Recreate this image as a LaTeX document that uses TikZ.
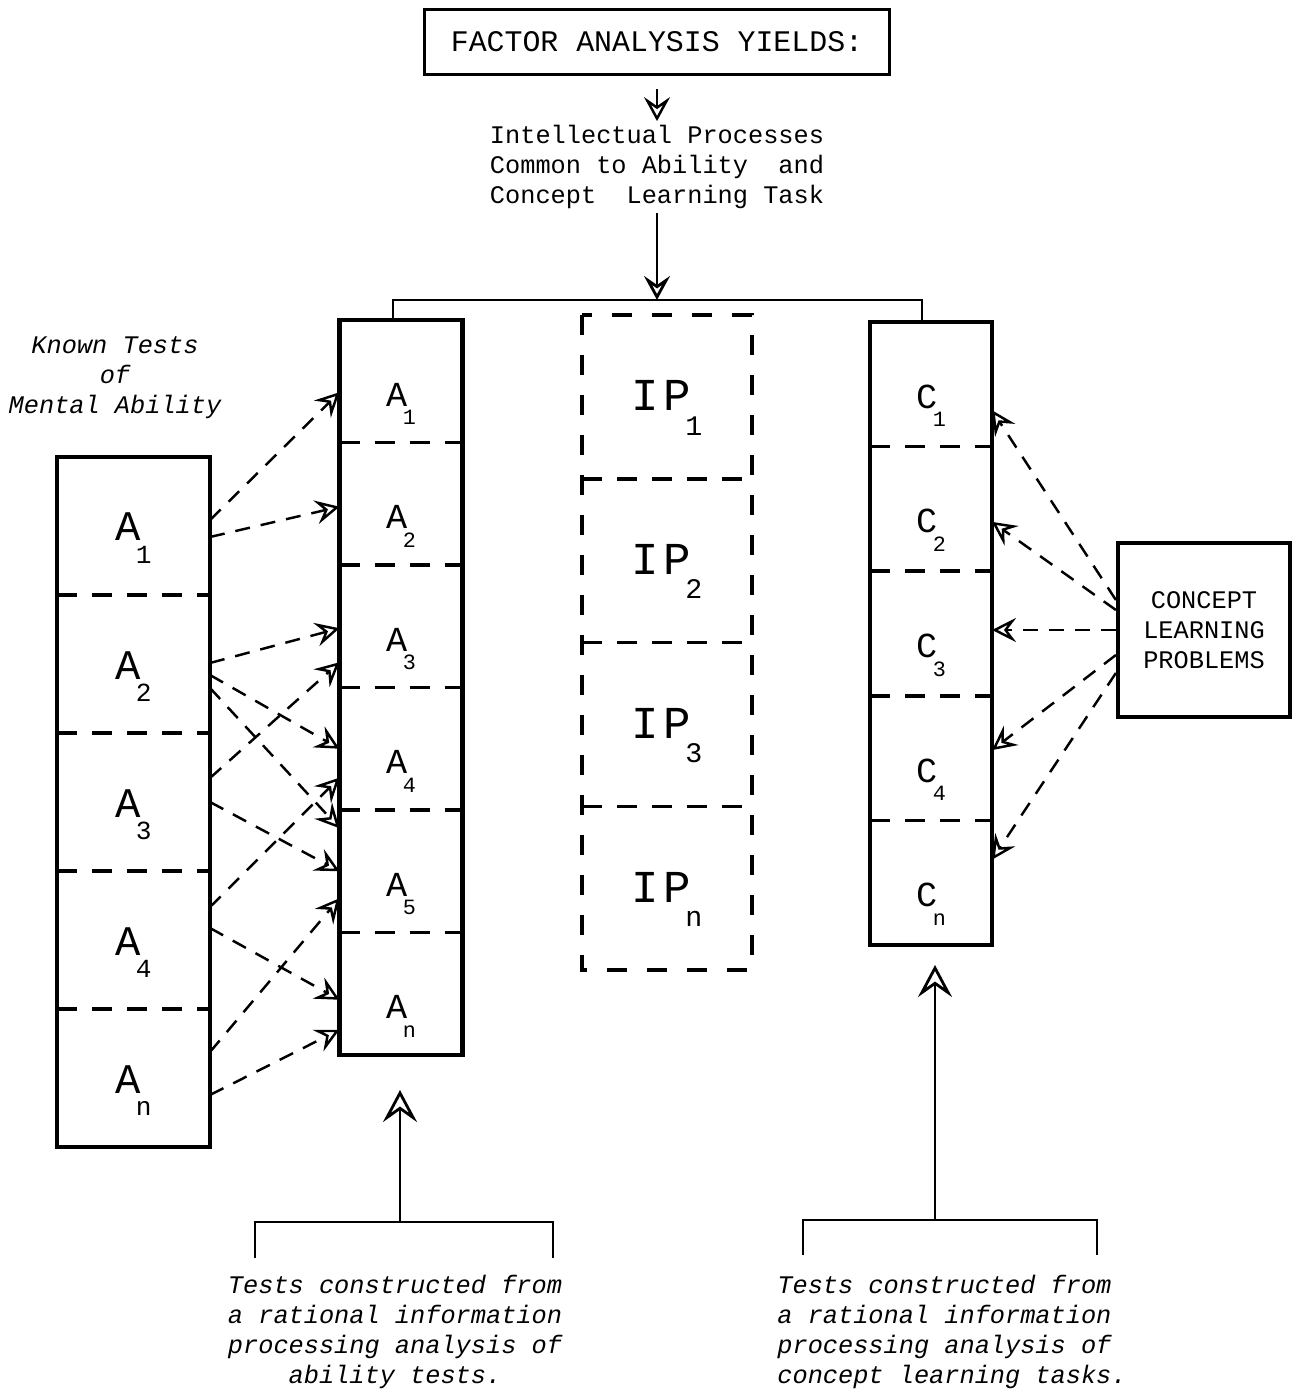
\documentclass[tikz,border=0pt]{standalone}
\usepackage{fontspec}
\setmainfont{Liberation Mono}
\usetikzlibrary{arrows.meta, positioning, calc}

\newcommand{\lowidx}[1]{\kern-0.12em\raisebox{-1ex}{\scalebox{0.62}{#1}}}

\begin{document}
\begin{tikzpicture}[x=0.1mm, y=-0.1mm,
    frame/.style={line width=1.2pt},
    divider/.style={line width=1pt, dash pattern=on 2mm off 1.5mm},
    kcell/.style={minimum width=15.3mm, minimum height=13.8mm, inner sep=0pt, outer sep=0pt, font=\fontsize{12}{12}\selectfont, text height=3mm, text depth=0pt},
    acell/.style={minimum width=12.3mm, minimum height=12.25mm, inner sep=0pt, outer sep=0pt, font=\fontsize{10}{10}\selectfont, text height=5mm, text depth=0pt},
    ipcell/.style={minimum width=17mm, minimum height=16.375mm, inner sep=0pt, outer sep=0pt, font=\fontsize{13}{13}\selectfont, text height=2.8mm, text depth=0pt},
    ccell/.style={minimum width=12.2mm, minimum height=12.46mm, inner sep=0pt, outer sep=0pt, font=\fontsize{10}{10}\selectfont, text height=4.8mm, text depth=0pt},
    box/.style={draw, line width=1pt, align=center, inner sep=0pt},
    note/.style={align=center, inner sep=1pt, font=\fontsize{7.2}{8.5}\selectfont},
    slnote/.style={note, font=\itshape\fontsize{7.2}{8.5}\selectfont},
    bracket/.style={line width=0.8pt},
    darr/.style={line width=0.7pt, dash pattern=on 1.5mm off 1.1mm, -{Stealth[length=2.4mm, width=2.4mm, inset=0.9mm, fill=white]}},
    upar/.style={line width=0.8pt, -{Stealth[length=3.2mm, width=3.4mm, inset=1.2mm, fill=white]}},
    downar/.style={line width=0.7pt, -{Stealth[length=2.4mm, width=2.6mm, inset=0.9mm, fill=white]}}
]
\useasboundingbox (0,0) rectangle (1300,1394);

% Header
\node (factor) [box, line width=0.8pt, minimum width=46.5mm, minimum height=6.5mm, font=\fontsize{8.5}{10}\selectfont] at (657,42) {FACTOR ANALYSIS YIELDS:};
\node (procs) [note] at (657,167) {Intellectual Processes\\Common to Ability~~and\\Concept~~Learning Task};

% Known tests of mental ability
\node (known) [slnote] at (115,378) {Known Tests\\of\\Mental Ability};
\node (kt1) [kcell] at (133.5,526) {A\lowidx{1}};
\node (kt2) [kcell, below=0pt of kt1] {A\lowidx{2}};
\node (kt3) [kcell, below=0pt of kt2] {A\lowidx{3}};
\node (kt4) [kcell, below=0pt of kt3] {A\lowidx{4}};
\node (kt5) [kcell, below=0pt of kt4] {A\lowidx{n}};

% Constructed ability tests
\node (a1) [acell] at (401,381.25) {A\lowidx{1}};
\node (a2) [acell, below=0pt of a1] {A\lowidx{2}};
\node (a3) [acell, below=0pt of a2] {A\lowidx{3}};
\node (a4) [acell, below=0pt of a3] {A\lowidx{4}};
\node (a5) [acell, below=0pt of a4] {A\lowidx{5}};
\node (a6) [acell, below=0pt of a5] {A\lowidx{n}};

% Intellectual processes
\node (ip1) [ipcell] at (667,396.9) {I\kern0.1em P\lowidx{1}};
\node (ip2) [ipcell, below=0pt of ip1] {I\kern0.1em P\lowidx{2}};
\node (ip3) [ipcell, below=0pt of ip2] {I\kern0.1em P\lowidx{3}};
\node (ip4) [ipcell, below=0pt of ip3] {I\kern0.1em P\lowidx{n}};

% Constructed concept tasks
\node (c1) [ccell] at (931,384.3) {C\lowidx{1}};
\node (c2) [ccell, below=0pt of c1] {C\lowidx{2}};
\node (c3) [ccell, below=0pt of c2] {C\lowidx{3}};
\node (c4) [ccell, below=0pt of c3] {C\lowidx{4}};
\node (c5) [ccell, below=0pt of c4] {C\lowidx{n}};

\node (clp) [box, line width=1.2pt, minimum width=17.2mm, minimum height=17.4mm, font=\fontsize{7.2}{8.5}\selectfont] at (1204,630) {CONCEPT\\LEARNING\\PROBLEMS};

% Footnotes
\node (abtxt) [slnote] at (395,1332) {Tests constructed from\\a rational information\\processing analysis of\\ability tests.};
\node (cbtxt) [slnote, align=left] at (952,1332) {Tests constructed from\\a rational information\\processing analysis of\\concept learning tasks.};

% Column frames and cell borders
\draw[frame] (kt1.north west) rectangle (kt5.south east);
\draw[frame] (a1.north west) rectangle (a6.south east);
\draw[frame] (c1.north west) rectangle (c5.south east);
\draw[divider, dash pattern=on 2mm off 2mm] (ip1.north west) rectangle (ip4.south east);
\foreach \n in {kt1,kt2,kt3,kt4,a1,a2,a3,a4,a5,ip1,ip2,ip3,c1,c2,c3,c4}
    \draw[divider] (\n.south west) -- (\n.south east);

% Top flow
\coordinate (tl) at (393,300);
\coordinate (tr) at (922,300);
\draw[downar] ([yshift=-1.3mm]factor.south) -- (procs.north);
\draw[downar, line width=0.8pt] (procs.south) -- (procs.south |- tl);
\draw[bracket] (tl |- a1.north) -- (tl) -- (tr) -- (tr |- c1.north);

% Known tests to constructed tests
\draw[darr] ([yshift=0.6mm]kt1.east) -- ([yshift=-1.1mm]a1.west);
\draw[darr] ([yshift=-1.1mm]kt1.east) -- ([yshift=-0.3mm]a2.west);
\draw[darr] ([yshift=0.1mm]kt2.east) -- ([yshift=-0.2mm]a3.west);
\draw[darr] ([yshift=-1.1mm]kt2.east) -- (a4.west);
\draw[darr] ([yshift=-2.4mm]kt2.east) -- ([yshift=4.3mm]a5.west);
\draw[darr] ([yshift=2.4mm]kt3.east) -- ([yshift=-3.6mm]a3.west);
\draw[darr] (kt3.east) -- (a5.west);
\draw[darr] ([yshift=3.3mm]kt4.east) -- ([yshift=-2.9mm]a4.west);
\draw[darr] ([yshift=1.2mm]kt4.east) -- ([yshift=-0.6mm]a6.west);
\draw[darr] ([yshift=2.6mm]kt5.east) -- ([yshift=-2.7mm]a5.west);
\draw[darr] ([yshift=-1.7mm]kt5.east) -- ([yshift=-3.6mm]a6.west);

% Concept learning problems to tasks
\draw[darr] ([yshift=3mm]clp.west) -- ([yshift=-2.6mm]c1.east);
\draw[darr] ([yshift=2mm]clp.west) -- ([yshift=-1.3mm]c2.east);
\draw[darr] (clp.west) -- (clp.west -| c3.east);
\draw[darr] ([yshift=-2.5mm]clp.west) -- ([yshift=0.8mm]c4.east);
\draw[darr] ([yshift=-4.3mm]clp.west) -- ([yshift=2.3mm]c5.east);

% Bottom brackets
\coordinate (bl) at (400,1222);
\coordinate (br) at (935,1220);
\draw[bracket] (bl) ++(-145,36) |- ++(298,-36) -- ++(0,36);
\draw[upar, shorten >=3.5mm] (bl) -- (bl |- a6.south);
\draw[bracket] (br) ++(-132,35) |- ++(294,-35) -- ++(0,35);
\draw[upar, shorten >=2mm] (br) -- (br |- c5.south);

\end{tikzpicture}
\end{document}
